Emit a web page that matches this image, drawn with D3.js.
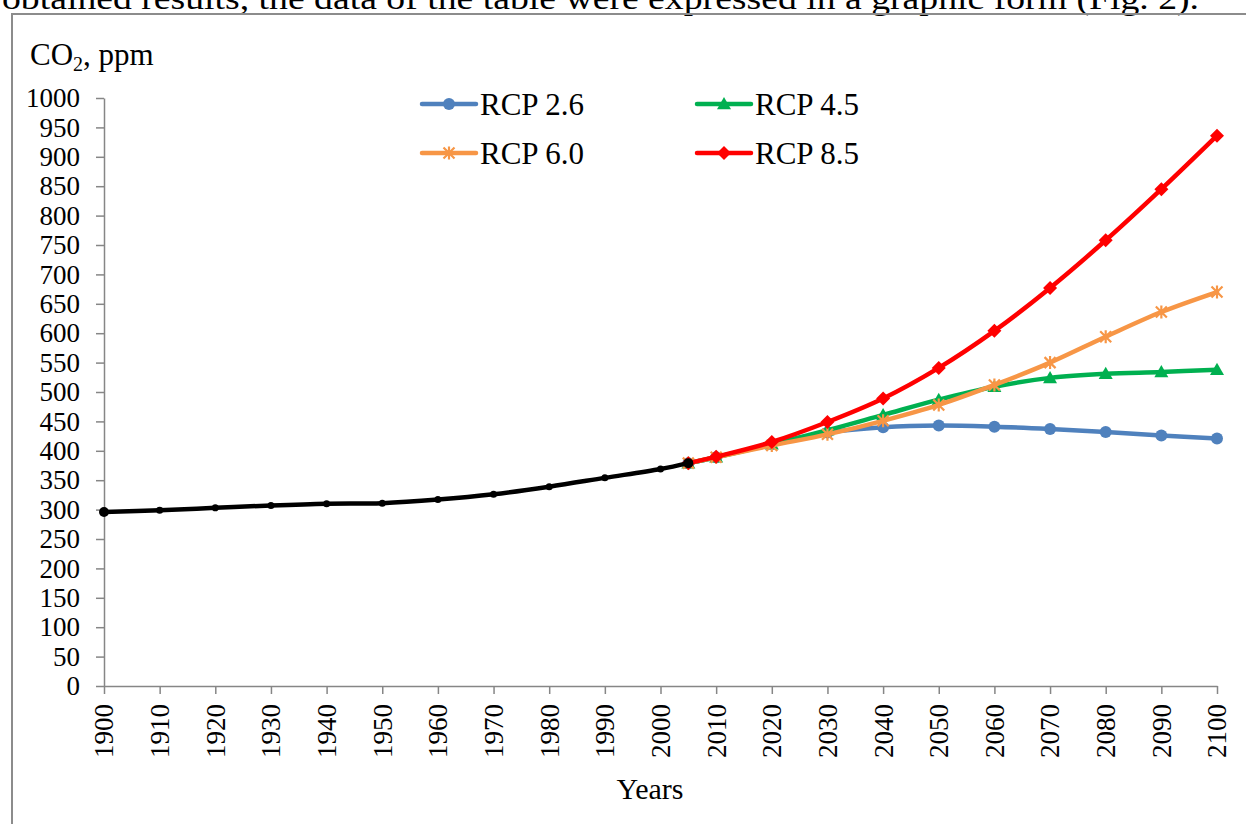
<!DOCTYPE html>
<html>
<head>
<meta charset="utf-8">
<script src="https://cdn.jsdelivr.net/npm/d3@7/dist/d3.min.js"></script>
<style>
  html, body { margin: 0; padding: 0; background: #fff; }
  svg { display: block; }
  text { font-family: "Liberation Serif", "Times New Roman", serif; fill: #000; }
</style>
</head>
<body>
<svg id="chart" width="1246" height="824"></svg>
<script>
// Observed CO2 concentration, ppm
const histYears = [1900, 1910, 1920, 1930, 1940, 1950, 1960, 1970, 1980, 1990, 2000, 2005];
const histCO2   = [296, 299, 303, 307, 310, 311, 317, 326, 339, 354, 369, 379];

// Scenario projections, ppm
const rcpYears = [2005, 2010, 2020, 2030, 2040, 2050, 2060, 2070, 2080, 2090, 2100];
const rcp26 = [379, 389, 412, 431, 440, 443, 441, 437, 432, 426, 421];
const rcp45 = [379, 389, 411, 435, 461, 487, 509, 524, 531, 534, 538];
const rcp60 = [379, 389, 409, 428, 451, 478, 512, 550, 594, 636, 670];
const rcp85 = [379, 390, 415, 449, 489, 541, 604, 677, 758, 845, 936];

const seriesNames = ["RCP 2.6", "RCP 4.5", "RCP 6.0", "RCP 8.5"];
const xTicks = d3.range(1900, 2101, 10);
const yTicks = d3.range(0, 1001, 50);

const svg = d3.select("#chart");
const font = '"Liberation Serif", "Times New Roman", serif';

// Sentence of the surrounding document, partly cut off at the top
svg.append("text")
  .attr("x", 2).attr("y", 9)
  .style("font-family", font)
  .attr("font-size", 32)
  .attr("textLength", 1197)
  .attr("lengthAdjust", "spacingAndGlyphs")
  .text("obtained results, the data of the table were expressed in a graphic form (Fig. 2).");

// Frame around the figure
svg.append("path")
  .attr("d", "M12,824 L12,14 L1246,14")
  .attr("fill", "none").attr("stroke", "#8c8c8c").attr("stroke-width", 2);

const x = d3.scaleLinear().domain([1900, 2100]).range([104, 1217]);
const y = d3.scaleLinear().domain([0, 1000]).range([686, 98]);

const axisColor = "#868686";

// Y axis
const gy = svg.append("g").attr("transform", `translate(${x(1900)},0)`)
  .call(d3.axisLeft(y).tickValues(yTicks).tickFormat(d3.format("d"))
    .tickSize(8).tickSizeOuter(0).tickPadding(16));
gy.select(".domain").attr("stroke", axisColor).attr("stroke-width", 1.5);
gy.selectAll(".tick line").attr("stroke", axisColor).attr("stroke-width", 1.5);
gy.selectAll(".tick text").style("font-family", font).attr("font-size", 27).attr("fill", "#000");

// X axis
const gx = svg.append("g").attr("transform", `translate(0,${y(0)})`)
  .call(d3.axisBottom(x).tickValues(xTicks).tickFormat(d3.format("d")).tickSize(8).tickSizeOuter(0));
gx.select(".domain").attr("stroke", axisColor).attr("stroke-width", 1.5);
gx.selectAll(".tick line").attr("stroke", axisColor).attr("stroke-width", 1.5);
gx.selectAll(".tick text")
  .style("font-family", font).attr("font-size", 27).attr("fill", "#000")
  .attr("transform", "rotate(-90)")
  .attr("text-anchor", "end")
  .attr("x", -18).attr("y", 0).attr("dy", "0.33em");

// Axis titles
const title = svg.append("text").attr("x", 30).attr("y", 65)
  .style("font-family", font).attr("font-size", 31);
title.append("tspan").text("CO");
title.append("tspan").attr("font-size", 20).attr("dy", 6).text("2");
title.append("tspan").attr("dy", -6).text(", ppm");

svg.append("text").attr("x", 650).attr("y", 799).attr("text-anchor", "middle")
  .style("font-family", font).attr("font-size", 30).text("Years");

// Lines
const line = d3.line()
  .x(d => x(d[0])).y(d => y(d[1]))
  .curve(d3.curveCatmullRom.alpha(0.5));

const colors = ["#4F81BD", "#00B050", "#F79646", "#FF0000"];
const rcpValues = [rcp26, rcp45, rcp60, rcp85];
const markerKinds = ["circle", "triangle", "star", "diamond"];

function drawMarker(g, kind, cx, cy, color) {
  if (kind === "circle") {
    g.append("circle").attr("cx", cx).attr("cy", cy).attr("r", 6).attr("fill", color);
  } else if (kind === "triangle") {
    const s = 7;
    g.append("path")
      .attr("d", `M${cx},${cy - s} L${cx + s},${cy + s * 0.75} L${cx - s},${cy + s * 0.75}Z`)
      .attr("fill", color);
  } else if (kind === "diamond") {
    const s = 7;
    g.append("path")
      .attr("d", `M${cx},${cy - s} L${cx + s},${cy} L${cx},${cy + s} L${cx - s},${cy}Z`)
      .attr("fill", color);
  } else if (kind === "star") {
    const s = 5.5;
    g.append("path")
      .attr("d", `M${cx - s},${cy - s} L${cx + s},${cy + s} M${cx - s},${cy + s} L${cx + s},${cy - s} M${cx},${cy - s - 1} L${cx},${cy + s + 1}`)
      .attr("stroke", color).attr("stroke-width", 2.2).attr("fill", "none");
  }
}

rcpValues.forEach((vals, i) => {
  const pts = rcpYears.map((yr, k) => [yr, vals[k]]);
  const g = svg.append("g");
  g.append("path").datum(pts)
    .attr("d", line).attr("fill", "none")
    .attr("stroke", colors[i]).attr("stroke-width", 4.5)
    .attr("stroke-linejoin", "round").attr("stroke-linecap", "round");
  pts.forEach(p => drawMarker(g, markerKinds[i], x(p[0]), y(p[1]), colors[i]));
});

// Observed record
const histPts = histYears.map((yr, k) => [yr, histCO2[k]]);
const gh = svg.append("g");
gh.append("path").datum(histPts)
  .attr("d", line).attr("fill", "none")
  .attr("stroke", "#000").attr("stroke-width", 4.5)
  .attr("stroke-linejoin", "round").attr("stroke-linecap", "round");
gh.selectAll("circle").data(histPts).join("circle")
  .attr("cx", d => x(d[0])).attr("cy", d => y(d[1]))
  .attr("r", (d, k) => (k === 0 || k === histPts.length - 1) ? 5 : 3.5)
  .attr("fill", "#000");

// Legend
const legendPos = [
  { lx: 422, ly: 104 },
  { lx: 697, ly: 104 },
  { lx: 422, ly: 153 },
  { lx: 697, ly: 153 }
];
seriesNames.forEach((name, i) => {
  const { lx, ly } = legendPos[i];
  const g = svg.append("g");
  g.append("line").attr("x1", lx).attr("x2", lx + 54).attr("y1", ly).attr("y2", ly)
    .attr("stroke", colors[i]).attr("stroke-width", 4.5).attr("stroke-linecap", "round");
  drawMarker(g, markerKinds[i], lx + 27, ly, colors[i]);
  g.append("text").attr("x", lx + 58).attr("y", ly + 11)
    .style("font-family", font).attr("font-size", 31).text(name);
});
</script>
</body>
</html>
